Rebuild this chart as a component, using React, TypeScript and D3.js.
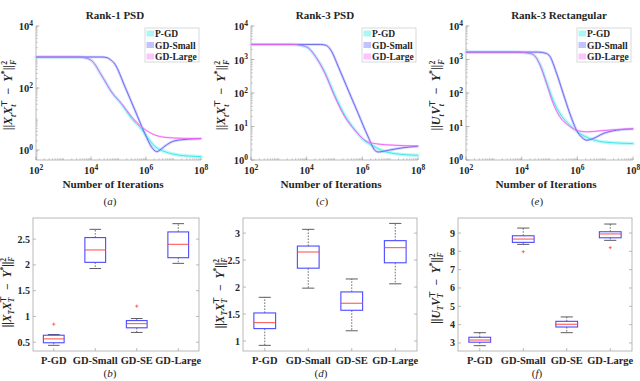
import React from "react";
import * as d3 from "d3";

const FONT = "'Liberation Serif', 'Times New Roman', serif";

const seriesNames = ["P-GD", "GD-Small", "GD-Large"];
const lineColors = ["#2fe6e6", "#6262f2", "#f060f0"];
const bandColors = ["#aaf6f6", "#c2c2ff", "#ffc2ff"];

// curves: [log10(iterations), log10(loss)]
const rank1PGD = [[2, 3.0], [3.5, 3.0], [3.75, 2.98], [4.03, 2.88], [4.39, 2.4], [4.75, 1.87], [5.12, 1.47], [5.48, 1.02], [5.84, 0.68], [6.1, 0.35], [6.33, 0.11], [6.69, -0.05], [7.17, -0.16], [8, -0.21]];
const rank1Small = [[2, 3.0], [4.4, 3.0], [4.58, 2.98], [4.7, 2.92], [4.87, 2.77], [5.24, 2.03], [5.6, 1.28], [5.96, 0.53], [6.2, 0.1], [6.39, -0.05], [6.55, 0.03], [6.69, 0.13], [7.05, 0.3], [7.54, 0.35], [8, 0.37]];
const rank1Large = [[2, 3.0], [3.5, 3.0], [3.75, 2.98], [4.03, 2.88], [4.39, 2.4], [4.75, 1.87], [5.12, 1.49], [5.48, 1.07], [5.84, 0.75], [6.21, 0.53], [6.69, 0.41], [7.3, 0.38], [8, 0.37]];

const rank3PGD = [[2, 3.45], [3.5, 3.45], [3.81, 3.42], [4.05, 3.35], [4.35, 3.05], [4.65, 2.62], [5.01, 1.93], [5.37, 1.33], [5.73, 0.9], [6.09, 0.57], [6.33, 0.45], [6.69, 0.29], [7.17, 0.19], [8, 0.14]];
const rank3Small = [[2, 3.45], [4.5, 3.45], [4.71, 3.42], [4.89, 3.25], [5.13, 2.8], [5.49, 2.09], [5.85, 1.39], [6.21, 0.69], [6.45, 0.29], [6.57, 0.24], [6.93, 0.29], [7.41, 0.36], [8, 0.41]];
const rank3Large = [[2, 3.45], [3.5, 3.45], [3.81, 3.42], [4.05, 3.35], [4.35, 3.05], [4.65, 2.6], [5.01, 1.89], [5.37, 1.29], [5.73, 0.89], [6.09, 0.59], [6.45, 0.49], [7.17, 0.44], [8, 0.42]];

const rectPGD = [[2, 3.22], [3.8, 3.22], [4.17, 3.2], [4.41, 3.15], [4.65, 2.87], [4.89, 2.33], [5.13, 1.78], [5.37, 1.39], [5.73, 1.04], [6.09, 0.79], [6.45, 0.64], [6.93, 0.54], [8, 0.49]];
const rectSmall = [[2, 3.22], [4.6, 3.22], [4.89, 3.18], [5.01, 3.1], [5.25, 2.6], [5.49, 1.99], [5.73, 1.39], [5.97, 0.89], [6.21, 0.64], [6.33, 0.59], [6.57, 0.64], [6.93, 0.79], [7.41, 0.89], [8, 0.93]];
const rectLarge = [[2, 3.22], [3.8, 3.22], [4.17, 3.2], [4.41, 3.15], [4.65, 2.85], [4.89, 2.29], [5.13, 1.69], [5.37, 1.29], [5.67, 1.04], [5.97, 0.89], [6.33, 0.84], [6.81, 0.87], [7.41, 0.91], [8, 0.93]];

// box plots: [lower whisker, q1, median, q3, upper whisker]
const categories = ["P-GD", "GD-Small", "GD-SE", "GD-Large"];
const rank1Boxes = [[0.44, 0.49, 0.565, 0.636, 0.65], [1.93, 2.05, 2.29, 2.53, 2.69], [0.69, 0.78, 0.86, 0.92, 0.96], [2.03, 2.14, 2.4, 2.64, 2.8]];
const rank1Outliers = [[0.85], [], [1.2], []];
const rank3Boxes = [[0.92, 1.23, 1.34, 1.52, 1.81], [1.98, 2.35, 2.65, 2.76, 3.07], [1.19, 1.57, 1.7, 1.91, 2.15], [2.06, 2.45, 2.73, 2.86, 3.18]];
const rank3Outliers = [[], [], [], []];
const rectBoxes = [[2.85, 3.04, 3.16, 3.31, 3.56], [8.38, 8.49, 8.67, 8.85, 9.27], [3.56, 3.87, 4.02, 4.18, 4.42], [8.6, 8.74, 8.95, 9.07, 9.49]];
const rectOutliers = [[], [7.98], [], [8.2]];

const axisGray = "#a8a8a8";
const textCol = "#262626";

// label pieces: [text, position, italic, back-shift]
type Piece = [string, string, number?, number?];
const labelXt: Piece[] = [["||", "b"], ["X", "b", 1], ["t", "sub", 1], ["X", "b", 1], ["t", "sub", 1], ["\u22A4", "sup", 0, 3], ["  \u2212  ", "b"], ["Y", "b", 1], ["*", "sup"], ["||", "b"], ["F", "sub", 1], ["2", "sup", 0, 5]];
const labelUt: Piece[] = [["||", "b"], ["U", "b", 1], ["t", "sub", 1], ["V", "b", 1], ["t", "sub", 1], ["\u22A4", "sup", 0, 3], ["  \u2212  ", "b"], ["Y", "b", 1], ["*", "sup"], ["||", "b"], ["F", "sub", 1], ["2", "sup", 0, 5]];
const labelXT: Piece[] = [["||", "b"], ["X", "b", 1], ["T", "sub", 1], ["X", "b", 1], ["T", "sub", 1], ["\u22A4", "sup", 0, 5], ["  \u2212  ", "b"], ["Y", "b", 1], ["*", "sup"], ["||", "b"], ["F", "sub", 1], ["2", "sup", 0, 5]];
const labelUT: Piece[] = [["||", "b"], ["U", "b", 1], ["T", "sub", 1], ["V", "b", 1], ["T", "sub", 1], ["\u22A4", "sup", 0, 5], ["  \u2212  ", "b"], ["Y", "b", 1], ["*", "sup"], ["||", "b"], ["F", "sub", 1], ["2", "sup", 0, 5]];

function MathLabel({ x, y, pieces, size = 12 }: { x: number; y: number; pieces: Piece[]; size?: number }) {
  let shift = 0;
  return (
    <text transform={`translate(${x},${y}) rotate(-90)`} textAnchor="middle" fontFamily={FONT} fontWeight="bold" fontSize={size} fill={textCol} style={{ whiteSpace: "pre" }}>
      {pieces.map(([t, pos, it, back], i) => {
        const target = pos === "sub" ? size * 0.3 : pos === "sup" ? -size * 0.42 : 0;
        const dy = target - shift;
        shift = target;
        return (
          <tspan key={i} dy={dy} dx={back ? -back : undefined} fontSize={pos === "b" ? size : size * 0.66} fontStyle={it ? "italic" : "normal"}>
            {t}
          </tspan>
        );
      })}
    </text>
  );
}

function Tag({ x, y, letter }: { x: number; y: number; letter: string }) {
  return (
    <text x={x} y={y} textAnchor="middle" fontFamily={FONT} fontSize={11} fill={textCol}>
      (<tspan fontStyle="italic">{letter}</tspan>)
    </text>
  );
}

function Pow({ x, y, k, anchor }: { x: number; y: number; k: number; anchor: string }) {
  return (
    <text x={x} y={y} textAnchor={anchor} fontFamily={FONT} fontWeight="bold" fontSize={10.5} fill={textCol}>
      10<tspan dy={-4.5} fontSize={7.5}>{k}</tspan>
    </text>
  );
}

function CurvePanel(props: any) {
  const { left, right, top, bottom, yMinExp, yMajors, series, title, titleX, tag, tagX, ylabel, ylabelX, xlabelX } = props;
  const x = d3.scaleLog().domain([1e2, 1e8]).range([left, right]);
  const y = d3.scaleLog().domain([10 ** yMinExp, 1e4]).range([bottom, top]);
  const line = d3
    .line<number[]>()
    .x((d) => x(10 ** d[0]))
    .y((d) => y(10 ** d[1]))
    .curve(d3.curveMonotoneX);
  const xMajors = [2, 4, 6, 8];
  const xMinor = x.ticks();
  const yMinor = y.ticks().filter((v) => v >= 10 ** yMinExp);
  const bandW = [3.5, 2.6, 2];
  const legX = right - 56;

  return (
    <g>
      <text x={titleX} y={19} textAnchor="middle" fontFamily={FONT} fontWeight="bold" fontSize={11} fill={textCol}>{title}</text>
      {/* minor ticks */}
      {xMinor.map((v, i) => (
        <line key={"xm" + i} x1={x(v)} x2={x(v)} y1={bottom} y2={bottom - 1.8} stroke={axisGray} strokeWidth={0.6} />
      ))}
      {yMinor.map((v, i) => (
        <line key={"ym" + i} x1={left} x2={left + 1.8} y1={y(v)} y2={y(v)} stroke={axisGray} strokeWidth={0.6} />
      ))}
      {xMajors.map((k) => (
        <g key={"xM" + k}>
          <line x1={x(10 ** k)} x2={x(10 ** k)} y1={bottom} y2={bottom - 3.5} stroke={axisGray} strokeWidth={0.8} />
          <Pow x={x(10 ** k)} y={bottom + 14} k={k} anchor="middle" />
        </g>
      ))}
      {yMajors.map((k: number) => (
        <g key={"yM" + k}>
          <line x1={left} x2={left + 3.5} y1={y(10 ** k)} y2={y(10 ** k)} stroke={axisGray} strokeWidth={0.8} />
          <Pow x={left - 3} y={y(10 ** k) + 4} k={k} anchor="end" />
        </g>
      ))}
      <line x1={left} x2={left} y1={top} y2={bottom} stroke={axisGray} strokeWidth={0.8} />
      <line x1={left} x2={right} y1={bottom} y2={bottom} stroke={axisGray} strokeWidth={0.8} />
      {series.map((s: number[][], i: number) => (
        <path key={"b" + i} d={line(s) || ""} fill="none" stroke={bandColors[i]} strokeWidth={bandW[i]} strokeOpacity={0.75} strokeLinecap="round" />
      ))}
      {series.map((s: number[][], i: number) => (
        <path key={"l" + i} d={line(s) || ""} fill="none" stroke={lineColors[i]} strokeWidth={0.9} />
      ))}
      <rect x={legX} y={28} width={54} height={34} fill="#fff" stroke="#cfcfcf" strokeWidth={0.8} />
      {seriesNames.map((n, i) => (
        <g key={n}>
          <rect x={legX + 1.5} y={30.5 + i * 11.5} width={7.5} height={6} fill={bandColors[i]} />
          <text x={legX + 10} y={37 + i * 11.5} fontFamily={FONT} fontWeight="bold" fontSize={9.5} fill={textCol}>{n}</text>
        </g>
      ))}
      <text x={xlabelX} y={188} textAnchor="middle" fontFamily={FONT} fontWeight="bold" fontSize={11.2} fill={textCol}>Number of Iterations</text>
      <MathLabel x={ylabelX} y={95} pieces={ylabel} />
      <Tag x={tagX} y={205} letter={tag} />
    </g>
  );
}

function BoxPanel(props: any) {
  const { left, right, top, bottom, domain, yTicks, boxes, outliers, tag, tagX, ylabel, ylabelX, ylabelY } = props;
  const x = d3.scaleLinear().domain([0.5, 4.5]).range([left, right]);
  const y = d3.scaleLinear().domain(domain).range([bottom, top]);
  const half = x(1.25) - x(1);
  const cap = x(1.14) - x(1);
  return (
    <g>
      <rect x={left} y={top} width={right - left} height={bottom - top} fill="none" stroke={axisGray} strokeWidth={0.8} />
      {yTicks.map((v: number) => (
        <g key={v}>
          <line x1={left} x2={left + 3} y1={y(v)} y2={y(v)} stroke={axisGray} strokeWidth={0.8} />
          <line x1={right} x2={right - 3} y1={y(v)} y2={y(v)} stroke={axisGray} strokeWidth={0.8} />
          <text x={left - 3} y={y(v) + 3.5} textAnchor="end" fontFamily={FONT} fontWeight="bold" fontSize={10} fill={textCol}>{String(v)}</text>
        </g>
      ))}
      {categories.map((c, i) => (
        <g key={c}>
          <line x1={x(i + 1)} x2={x(i + 1)} y1={bottom} y2={bottom - 3} stroke={axisGray} strokeWidth={0.8} />
          <text x={x(i + 1)} y={364} textAnchor="middle" fontFamily={FONT} fontWeight="bold" fontSize={10.5} fill={textCol}>{c}</text>
        </g>
      ))}
      {boxes.map((b: number[], i: number) => {
        const cx = x(i + 1);
        return (
          <g key={"box" + i}>
            <line x1={cx} x2={cx} y1={y(b[3])} y2={y(b[4])} stroke="#333" strokeWidth={0.7} strokeDasharray="1.6,1.4" />
            <line x1={cx} x2={cx} y1={y(b[1])} y2={y(b[0])} stroke="#333" strokeWidth={0.7} strokeDasharray="1.6,1.4" />
            <line x1={cx - cap} x2={cx + cap} y1={y(b[4])} y2={y(b[4])} stroke="#333" strokeWidth={0.8} />
            <line x1={cx - cap} x2={cx + cap} y1={y(b[0])} y2={y(b[0])} stroke="#333" strokeWidth={0.8} />
            <rect x={cx - half} y={y(b[3])} width={2 * half} height={y(b[1]) - y(b[3])} fill="none" stroke="#4a4aff" strokeWidth={1.1} />
            <line x1={cx - half} x2={cx + half} y1={y(b[2])} y2={y(b[2])} stroke="#ff4a4a" strokeWidth={1} />
            {outliers[i].map((o: number, j: number) => (
              <g key={j} stroke="#ff4a4a" strokeWidth={0.8}>
                <line x1={cx - 1.6} x2={cx + 1.6} y1={y(o)} y2={y(o)} />
                <line x1={cx} x2={cx} y1={y(o) - 1.6} y2={y(o) + 1.6} />
              </g>
            ))}
          </g>
        );
      })}
      <MathLabel x={ylabelX} y={ylabelY} pieces={ylabel} size={11.5} />
      <Tag x={tagX} y={377} letter={tag} />
    </g>
  );
}

export default function App() {
  return (
    <svg width={640} height={381} style={{ position: "absolute", left: 0, top: 0, background: "#fff" }}>
      <rect width={640} height={381} fill="#fff" />
      <CurvePanel left={36} right={201} top={26} bottom={160} yMinExp={-0.32} yMajors={[0, 2, 4]}
        series={[rank1PGD, rank1Small, rank1Large]} title="Rank-1 PSD" titleX={115} tag="a" tagX={110}
        ylabel={labelXt} ylabelX={12} xlabelX={113} />
      <CurvePanel left={251} right={418} top={26} bottom={160} yMinExp={0} yMajors={[0, 1, 2, 3, 4]}
        series={[rank3PGD, rank3Small, rank3Large]} title="Rank-3 PSD" titleX={325} tag="c" tagX={322}
        ylabel={labelXt} ylabelX={225} xlabelX={331} />
      <CurvePanel left={466} right={633} top={26} bottom={160} yMinExp={0} yMajors={[0, 1, 2, 3, 4]}
        series={[rectPGD, rectSmall, rectLarge]} title="Rank-3 Rectangular" titleX={559} tag="e" tagX={537}
        ylabel={labelUt} ylabelX={440} xlabelX={546} />
      <BoxPanel left={33} right={199} top={218} bottom={351} domain={[0.33, 2.91]} yTicks={[0.5, 1, 1.5, 2, 2.5]}
        boxes={rank1Boxes} outliers={rank1Outliers} tag="b" tagX={110} ylabel={labelXT} ylabelX={11} ylabelY={292} />
      <BoxPanel left={243} right={417} top={218} bottom={351} domain={[0.815, 3.28]} yTicks={[1, 1.5, 2, 2.5, 3]}
        boxes={rank3Boxes} outliers={rank3Outliers} tag="d" tagX={321} ylabel={labelXT} ylabelX={224} ylabelY={293} />
      <BoxPanel left={458} right={632} top={218} bottom={351} domain={[2.56, 9.82]} yTicks={[3, 4, 5, 6, 7, 8, 9]}
        boxes={rectBoxes} outliers={rectOutliers} tag="f" tagX={537} ylabel={labelUT} ylabelX={440} ylabelY={288} />
    </svg>
  );
}
